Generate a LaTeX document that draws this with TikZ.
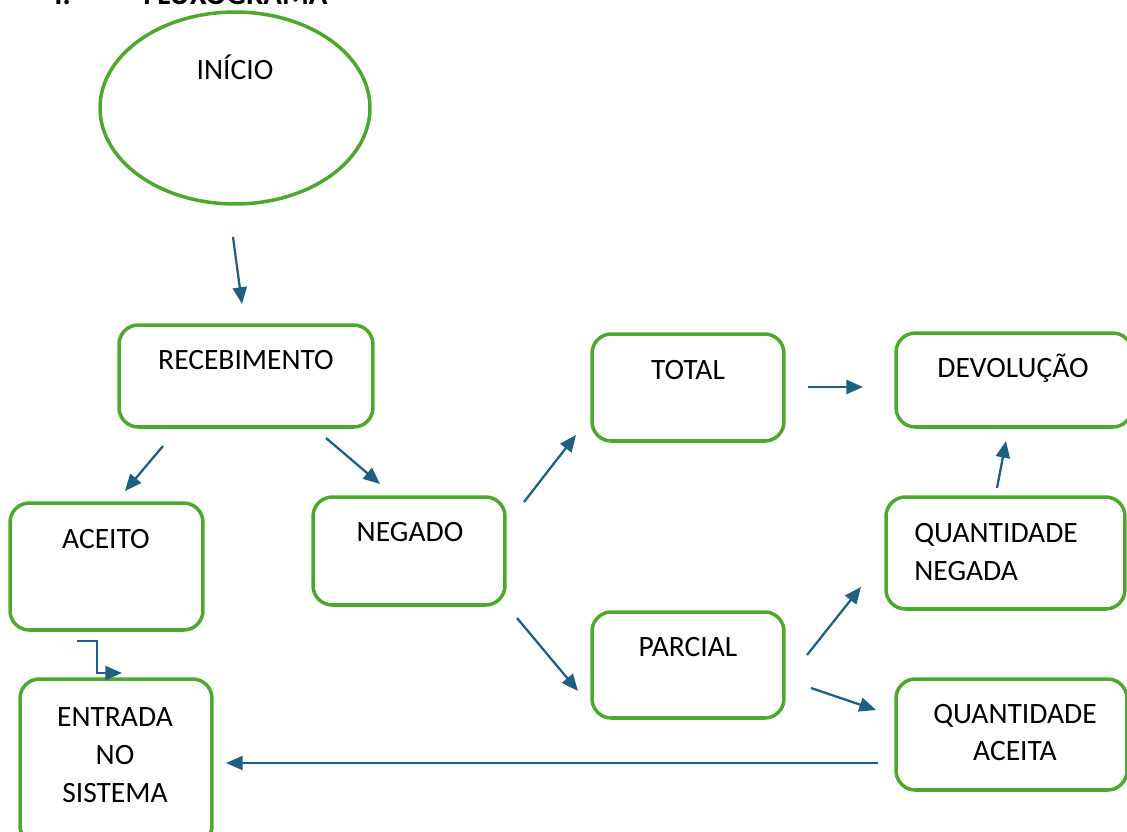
\documentclass[tikz,border=0pt]{standalone}
\usepackage{fontspec}
\setmainfont{Carlito}
\usetikzlibrary{shapes.geometric,arrows.meta,positioning}

\definecolor{verde}{HTML}{4EA72E}
\definecolor{azul}{HTML}{1F5F82}

\tikzset{
  caixa/.style={draw=verde, line width=2pt, rounded corners=11pt, minimum width=3.84cm, minimum height=2.14cm},
  inicio/.style={draw=verde, line width=2pt, ellipse, minimum width=5.4cm, minimum height=3.84cm},
  seta/.style={draw=azul, line width=1.3pt, -{Triangle[length=9.5pt,width=8pt]}},
  rotulo/.style={font=\fontsize{16.8}{21.5}\selectfont, inner sep=0pt, anchor=base, align=center},
  titulo/.style={font=\fontsize{17.5}{20}\selectfont\bfseries, inner sep=0pt, anchor=base west}
}

\begin{document}
\begin{tikzpicture}[x=0.02cm, y=-0.02cm]
\useasboundingbox (0,0) rectangle (1127,832);

% titulo (cortado no topo)
\node[titulo] (num) at (54,4) {I.};
\node[titulo] (tit) at (143,4) {FLUXOGRAMA};

% formas
\node[inicio] (ini) at (235,108) {};
\node[caixa, minimum width=5.08cm, minimum height=2.04cm] (receb) at (246,376) {};
\node[caixa, minimum width=3.86cm, minimum height=2.54cm] (aceito) at (106.5,566.5) {};
\node[caixa, minimum height=2.16cm] (negado) at (409,551) {};
\node[caixa] (total) at (688,387.5) {};
\node[caixa, minimum width=4.72cm, minimum height=1.88cm] (devol) at (1014,380) {};
\node[caixa, minimum width=4.78cm, minimum height=2.24cm] (qneg) at (1005.5,553) {};
\node[caixa, minimum height=2.12cm] (parcial) at (688,665) {};
\node[caixa, minimum width=4.62cm, minimum height=2.22cm] (qacei) at (1011.5,734.5) {};
\node[caixa, minimum height=3.32cm] (entrada) at (116,762) {};

% textos (em varias linhas a base e a da ultima linha)
\node[rotulo] (t-ini) at (235,79) {INÍCIO};
\node[rotulo] (t-receb) at (246,369) {RECEBIMENTO};
\node[rotulo] (t-aceito) at (106,548) {ACEITO};
\node[rotulo] (t-negado) at (410,541) {NEGADO};
\node[rotulo] (t-total) at (688,379) {TOTAL};
\node[rotulo] (t-devol) at (1013,377) {DEVOLUÇÃO};
\node[rotulo, align=left, anchor=base west] (t-qneg) at (914,580) {QUANTIDADE\\NEGADA};
\node[rotulo] (t-parcial) at (688,656) {PARCIAL};
\node[rotulo, font=\fontsize{16.8}{20.5}\selectfont] (t-qacei) at (1015,760) {QUANTIDADE\\ACEITA};
\node[rotulo] (t-entrada) at (115,802) {ENTRADA\\NO\\SISTEMA};

% pontas das setas
\coordinate (s1a) at (233,237);  \coordinate (s1b) at (242,304);
\coordinate (s2a) at (163,446);  \coordinate (s2b) at (125,491);
\coordinate (s3a) at (326,438);  \coordinate (s3b) at (380,484);
\coordinate (s4a) at (524,502);  \coordinate (s4b) at (576,435);
\coordinate (s5a) at (517,618);  \coordinate (s5b) at (578,691);
\coordinate (s6a) at (808,387);  \coordinate (s6b) at (863,387);
\coordinate (s7a) at (997,488);  \coordinate (s7b) at (1006,441);
\coordinate (s8a) at (807,655);  \coordinate (s8b) at (861,587);
\coordinate (s9a) at (811,688);  \coordinate (s9b) at (876,710);
\coordinate (s10a) at (878,763); \coordinate (s10b) at (226,763);
\coordinate (s11a) at (77,641);  \coordinate (s11b) at (122,673);

% setas
\draw[seta] (s1a) -- (s1b);
\draw[seta] (s2a) -- (s2b);
\draw[seta] (s3a) -- (s3b);
\draw[seta] (s4a) -- (s4b);
\draw[seta] (s5a) -- (s5b);
\draw[seta] (s6a) -- (s6b);
\draw[seta] (s7a) -- (s7b);
\draw[seta] (s8a) -- (s8b);
\draw[seta] (s9a) -- (s9b);
\draw[seta] (s10a) -- (s10b);
\draw[seta, line width=1pt] (s11a) -- ++(20,0) |- (s11b);
\end{tikzpicture}
\end{document}
